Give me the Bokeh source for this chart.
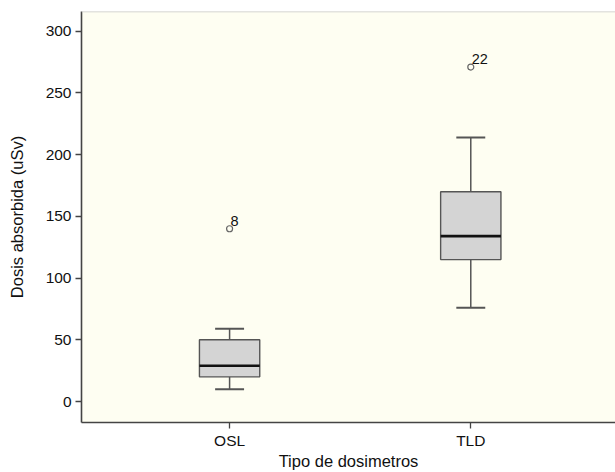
from bokeh.plotting import figure
from bokeh.models import Range1d, FixedTicker, Span, ColumnDataSource
from bokeh.embed import file_html
from bokeh.resources import INLINE
from bokeh.core.properties import value

# ---- data ----
categories = ["OSL", "TLD"]
positions = [1, 2]
whisker_low = [10, 76]
q1 = [20, 115]
median = [29, 134]
q3 = [50, 170]
whisker_high = [59, 214]
outlier_pos = [1, 2]
outlier_val = [140, 271]
outlier_lbl = ["8", "22"]
y_ticks = [0, 50, 100, 150, 200, 250, 300]
x_title = "Tipo de dosimetros"
y_title = "Dosis absorbida (uSv)"

FONT = "Liberation Sans"
BG = "#FEFEF2"

p = figure(width=615, height=472, output_backend="svg", toolbar_location=None,
           x_range=Range1d(0.386, 2.60), y_range=Range1d(-17, 316),
           min_border_left=81, min_border_right=0, min_border_top=11, min_border_bottom=50)
p.background_fill_color = BG
p.border_fill_color = "white"
p.outline_line_color = None
p.grid.visible = False

box_w = 0.25
cap_w = 0.12
src = ColumnDataSource(dict(
    x=positions, lo=whisker_low, q1=q1, med=median, q3=q3, hi=whisker_high,
    x0=[v - box_w / 2 for v in positions], x1=[v + box_w / 2 for v in positions],
    c0=[v - cap_w / 2 for v in positions], c1=[v + cap_w / 2 for v in positions],
))

# stems
p.segment(x0="x", y0="lo", x1="x", y1="q1", source=src, line_color="#555555", line_width=1.5)
p.segment(x0="x", y0="q3", x1="x", y1="hi", source=src, line_color="#555555", line_width=1.5)
# caps
p.segment(x0="c0", y0="lo", x1="c1", y1="lo", source=src, line_color="#555555", line_width=2)
p.segment(x0="c0", y0="hi", x1="c1", y1="hi", source=src, line_color="#555555", line_width=2)
# boxes
p.quad(left="x0", right="x1", bottom="q1", top="q3", source=src,
       fill_color="#D4D4D4", line_color="#555555", line_width=1.4)
# median
p.segment(x0="x0", y0="med", x1="x1", y1="med", source=src, line_color="#111111", line_width=2.6)

# outliers
osrc = ColumnDataSource(dict(x=outlier_pos, y=outlier_val, t=outlier_lbl))
p.scatter(x="x", y="y", source=osrc, marker="circle", size=6, fill_color=BG,
          line_color="#666666", line_width=1.2)
p.text(x="x", y="y", text="t", source=osrc, x_offset=1, y_offset=-3,
       text_font=value(FONT), text_font_size="14.5px", text_color="#111111",
       text_baseline="bottom", text_align="left")

# top border line
p.add_layout(Span(location=316, dimension="width", line_color="#C8C8C8", line_width=1.5))

# axes
p.xaxis.ticker = FixedTicker(ticks=positions)
p.xaxis.major_label_overrides = {pos: c for pos, c in zip(positions, categories)}
p.yaxis.ticker = FixedTicker(ticks=y_ticks)
for ax in (p.xaxis[0], p.yaxis[0]):
    ax.axis_line_color = "#444444"
    ax.axis_line_width = 1.6
    ax.major_tick_line_color = "#444444"
    ax.major_tick_line_width = 1.3
    ax.major_tick_out = 6
    ax.major_tick_in = 0
    ax.minor_tick_line_color = None
    ax.major_label_text_font = FONT
    ax.major_label_text_font_size = "15.5px"
    ax.major_label_text_color = "#111111"
    ax.axis_label_text_font = FONT
    ax.axis_label_text_font_style = "normal"
    ax.axis_label_text_color = "#111111"
p.yaxis.axis_label = y_title
p.yaxis.axis_label_text_font_size = "16.5px"
p.xaxis.axis_label = x_title
p.xaxis.axis_label_text_font_size = "16.5px"
p.xaxis.major_label_standoff = 3
p.xaxis.axis_label_standoff = 0
p.yaxis.major_label_standoff = 4
p.yaxis.axis_label_standoff = 17

open("out.html", "w").write(file_html(p, INLINE))
